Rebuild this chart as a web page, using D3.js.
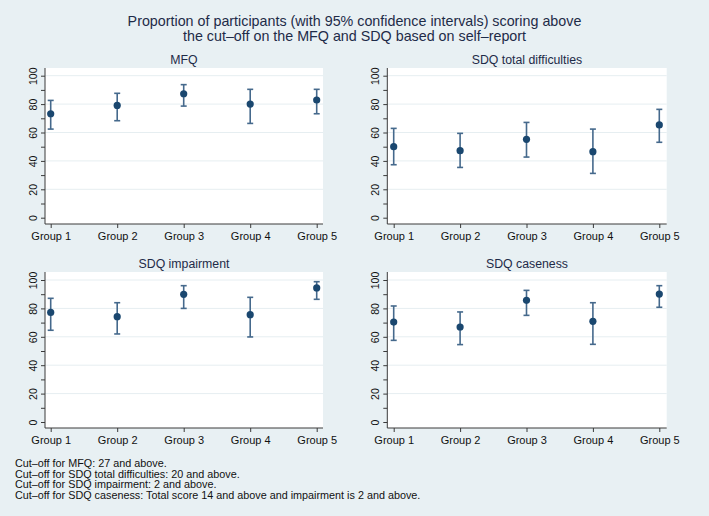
<!DOCTYPE html>
<html>
<head>
<meta charset="utf-8">
<script src="https://cdn.jsdelivr.net/npm/d3@7"></script>
<style>
  body { margin: 0; background: #e8f0f3; }
  svg { display: block; font-family: "Liberation Sans", Arial, Helvetica, sans-serif; }
</style>
</head>
<body>
<svg width="709" height="516"></svg>
<script>
const groups = ['Group 1', 'Group 2', 'Group 3', 'Group 4', 'Group 5'];
const panelTitles = ['MFQ', 'SDQ total difficulties', 'SDQ impairment', 'SDQ caseness'];
const yTicks = [0, 20, 40, 60, 80, 100];
const yMinorTicks = [10, 30, 50, 70, 90];

// point estimates and 95% CI bounds (percent)
const mfqEst = [73.2, 79.1, 87.3, 80.0, 82.9];
const mfqLow = [62.4, 68.3, 78.6, 66.4, 73.2];
const mfqHigh = [82.6, 87.6, 93.7, 90.4, 90.4];

const totalEst = [50.0, 47.2, 55.2, 46.5, 65.3];
const totalLow = [37.3, 35.4, 42.7, 31.2, 53.1];
const totalHigh = [62.9, 59.4, 67.1, 62.4, 76.3];

const impairEst = [77.2, 74.2, 89.9, 75.6, 94.4];
const impairLow = [64.6, 62.0, 80.0, 59.9, 86.4];
const impairHigh = [87.1, 84.0, 96.0, 87.8, 98.8];

const caseEst = [70.4, 66.9, 85.7, 70.9, 90.1];
const caseLow = [57.5, 54.5, 75.1, 54.7, 80.8];
const caseHigh = [81.7, 77.5, 92.7, 84.0, 96.0];

const titleLines = ['Proportion of participants (with 95% confidence intervals) scoring above',
                    'the cut\u2013off on the MFQ and SDQ based on self\u2013report'];
const notes = ['Cut\u2013off for MFQ: 27 and above.',
               'Cut\u2013off for SDQ total difficulties: 20 and above.',
               'Cut\u2013off for SDQ impairment: 2 and above.',
               'Cut\u2013off for SDQ caseness: Total score 14 and above and impairment is 2 and above.'];

const svg = d3.select('svg');
const WIDTH = +svg.attr('width');

const series = [
    {est: mfqEst, low: mfqLow, high: mfqHigh},
    {est: totalEst, low: totalLow, high: totalHigh},
    {est: impairEst, low: impairLow, high: impairHigh},
    {est: caseEst, low: caseLow, high: caseHigh}
];

// panel frames: plot region box plus where 0 and 100 sit
const frames = [
    {left: 45, right: 323, top: 68, bottom: 224, x1: 50.7, x5: 316.7, y0: 217.7, y100: 75.7},
    {left: 387.3, right: 666.7, top: 68, bottom: 224, x1: 393.7, x5: 659.3, y0: 217.7, y100: 75.7},
    {left: 45, right: 323, top: 272, bottom: 428, x1: 50.7, x5: 316.7, y0: 422, y100: 280},
    {left: 387.3, right: 666.7, top: 272, bottom: 428, x1: 393.7, x5: 659.3, y0: 422, y100: 280}
];

const navy = '#1a476f';
const barColor = '#45698c';
const axisColor = '#3a3a3a';
const textColor = '#1e2b48';

svg.append('rect').attr('width', WIDTH).attr('height', 516).attr('fill', '#e8f0f3');

svg.append('g').selectAll('text')
    .data(titleLines)
    .enter().append('text')
    .attr('x', WIDTH / 2)
    .attr('y', (d, i) => 26 + i * 15)
    .attr('text-anchor', 'middle')
    .style('font-size', '14.3px')
    .style('fill', textColor)
    .text(d => d);

let drawPanel = (f, s, title) => {
    const xScale = d3.scalePoint().domain(groups).range([f.x1, f.x5]);
    const yScale = d3.scaleLinear().domain([0, 100]).range([f.y0, f.y100]);
    const g = svg.append('g');

    g.append('rect')
        .attr('x', f.left).attr('y', f.top)
        .attr('width', f.right - f.left).attr('height', f.bottom - f.top)
        .attr('fill', '#fff');

    g.selectAll('.grid')
        .data(yTicks.filter(d => d > 0))
        .enter().append('line')
        .attr('x1', f.left).attr('x2', f.right)
        .attr('y1', d => yScale(d)).attr('y2', d => yScale(d))
        .style('stroke', '#e6eef1').style('stroke-width', 1);

    g.append('text')
        .attr('x', (f.left + f.right) / 2)
        .attr('y', f.top - 4)
        .attr('text-anchor', 'middle')
        .style('font-size', '12.3px')
        .style('fill', textColor)
        .text(title);

    // y axis
    let yAxis = d3.axisLeft(yScale).tickValues(yTicks).tickSize(4).tickFormat(d3.format('d'));
    let ya = g.append('g')
        .attr('transform', 'translate(' + f.left + ',0)')
        .call(yAxis);
    ya.select('.domain').remove();
    ya.selectAll('line').style('stroke', axisColor);
    ya.selectAll('text')
        .attr('x', 0).attr('y', -8.5).attr('dy', 0)
        .attr('transform', 'rotate(-90)')
        .attr('text-anchor', 'middle')
        .style('font-size', '10.5px')
        .style('fill', '#111')
        .style('font-family', '"Liberation Sans", Arial, sans-serif');

    let yMinor = d3.axisLeft(yScale).tickValues(yMinorTicks).tickSize(4).tickFormat('');
    let ym = g.append('g')
        .attr('transform', 'translate(' + f.left + ',0)')
        .call(yMinor);
    ym.select('.domain').remove();
    ym.selectAll('line').style('stroke', axisColor);

    g.append('line')
        .attr('x1', f.left).attr('x2', f.left)
        .attr('y1', f.top).attr('y2', f.bottom)
        .style('stroke', axisColor);

    // x axis
    let xAxis = d3.axisBottom(xScale).tickSize(4);
    let xa = g.append('g')
        .attr('transform', 'translate(0,' + f.bottom + ')')
        .call(xAxis);
    xa.select('.domain').remove();
    xa.selectAll('line').style('stroke', axisColor);
    xa.selectAll('text')
        .attr('y', 15.5).attr('dy', 0)
        .style('font-size', '11px')
        .style('fill', '#111')
        .style('font-family', '"Liberation Sans", Arial, sans-serif');

    g.append('line')
        .attr('x1', f.left).attr('x2', f.right)
        .attr('y1', f.bottom).attr('y2', f.bottom)
        .style('stroke', axisColor);

    // CI caps
    const rows = groups.map((grp, i) => ({group: grp, est: s.est[i], low: s.low[i], high: s.high[i]}));
    const bars = g.append('g').style('stroke', barColor).style('stroke-width', 1.6);
    bars.selectAll('.ci')
        .data(rows)
        .enter().append('line')
        .attr('x1', d => xScale(d.group)).attr('x2', d => xScale(d.group))
        .attr('y1', d => yScale(d.low)).attr('y2', d => yScale(d.high));
    bars.selectAll('.caplo')
        .data(rows)
        .enter().append('line')
        .attr('x1', d => xScale(d.group) - 3).attr('x2', d => xScale(d.group) + 3)
        .attr('y1', d => yScale(d.low)).attr('y2', d => yScale(d.low));
    bars.selectAll('.caphi')
        .data(rows)
        .enter().append('line')
        .attr('x1', d => xScale(d.group) - 3).attr('x2', d => xScale(d.group) + 3)
        .attr('y1', d => yScale(d.high)).attr('y2', d => yScale(d.high));

    g.selectAll('.pt')
        .data(rows)
        .enter().append('circle')
        .attr('cx', d => xScale(d.group))
        .attr('cy', d => yScale(d.est))
        .attr('r', 3.6)
        .style('fill', navy);
};

frames.forEach((f, i) => drawPanel(f, series[i], panelTitles[i]));

svg.append('g').selectAll('text')
    .data(notes)
    .enter().append('text')
    .attr('x', 15)
    .attr('y', (d, i) => 467 + i * 10.6)
    .style('font-size', '10.8px')
    .style('fill', '#111')
    .text(d => d);
</script>
</body>
</html>
